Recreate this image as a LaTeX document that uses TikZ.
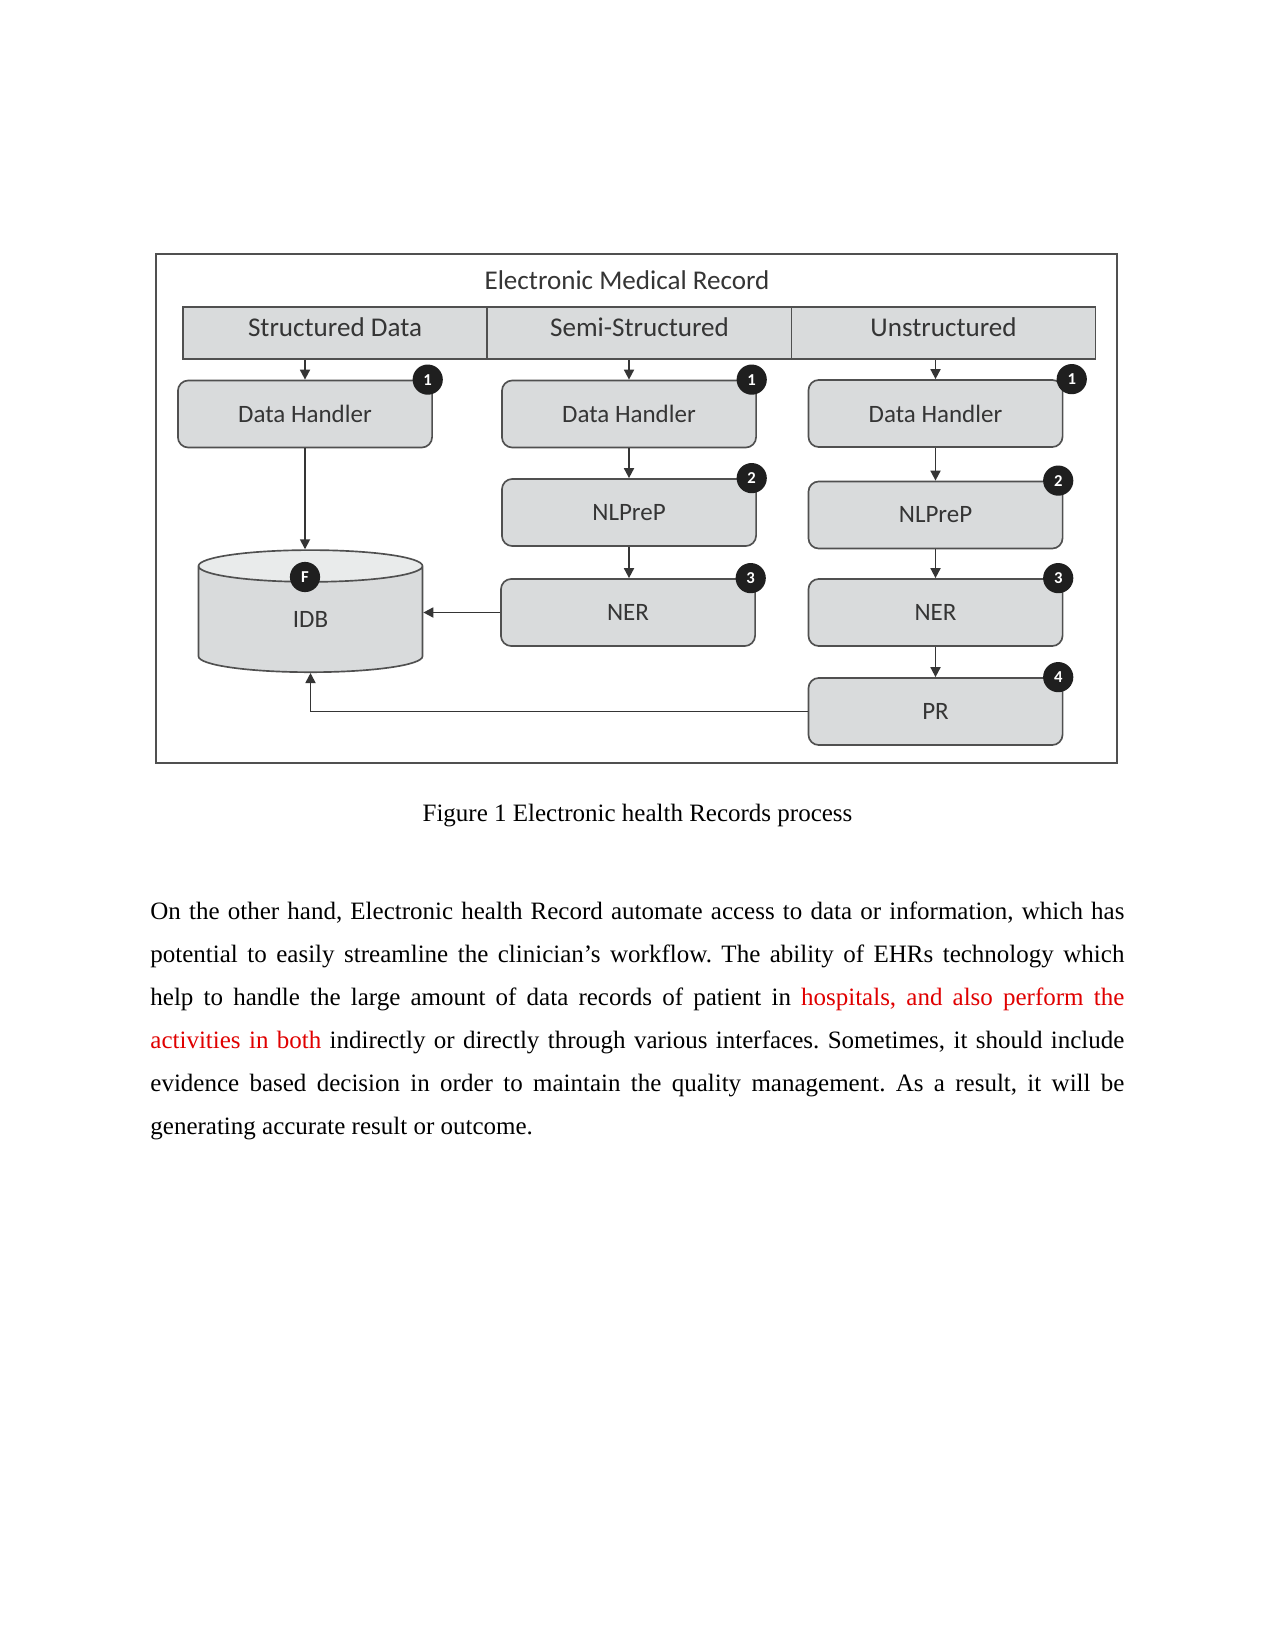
\documentclass[tikz,border=0pt]{standalone}
\usepackage{fontspec}
\usepackage{xcolor}
\setmainfont{Liberation Serif}
\newfontfamily\calibri{Carlito}
\usetikzlibrary{positioning,shapes.geometric,arrows.meta,calc}
\definecolor{boxgray}{HTML}{D9DBDC}
\definecolor{topgray}{HTML}{E9EBEB}
\definecolor{edgegray}{HTML}{505050}
\definecolor{inkgray}{HTML}{353535}
\definecolor{wordred}{HTML}{E00000}
\begin{document}
\begin{tikzpicture}[
    x=0.48pt, y=-0.48pt,
    every node/.style={font=\calibri, text=inkgray},
    header/.style={rectangle, draw=edgegray, fill=boxgray, line width=0.8pt, minimum width=146pt, minimum height=25pt, inner sep=0pt, text height=9pt, text depth=5.4pt, font=\calibri\fontsize{13}{15}\selectfont},
    stage/.style={rectangle, draw=edgegray, fill=boxgray, rounded corners=5pt, line width=0.8pt, minimum width=122pt, minimum height=32.2pt, inner sep=0pt, font=\calibri\fontsize{12}{14}\selectfont},
    badge/.style={circle, fill=black!88, text=white, inner sep=0pt, minimum size=14.5pt, font=\calibri\bfseries\fontsize{8}{9}\selectfont},
    flow/.style={-{Triangle[length=4.8pt,width=4.8pt]}, draw=inkgray, line width=0.85pt},
    page/.style={font=\rmfamily\fontsize{12}{20.7}\selectfont, text=black, inner sep=0pt}
]
\fill[white] (0,0) rectangle (1275,1651);
\useasboundingbox (0,0) rectangle (1275,1651);

\draw[edgegray, line width=1.1pt] (156,254) rectangle (1117,763);
\node[font=\calibri\fontsize{13}{15}\selectfont] (emr) at (627,280) {Electronic Medical Record};

\node[header] (structured) at (335,333) {Structured Data};
\node[header] (semi) at (639.5,333) {Semi-Structured};
\node[header] (unstructured) at (943.5,333) {Unstructured};

\node[stage] (dh1) at (305,414) {Data Handler};
\node[stage] (dh2) at (629,414) {Data Handler};
\node[stage] (dh3) at (935.5,413.5) {Data Handler};
\node[stage] (nlp2) at (629,512.5) {NLPreP};
\node[stage] (nlp3) at (935.5,515) {NLPreP};
\node[stage] (ner2) at (628,612.5) {NER};
\node[stage] (ner3) at (935.5,612.5) {NER};
\node[stage] (pr) at (935.5,711.5) {PR};

\node[cylinder, shape border rotate=90, aspect=0.9, draw=edgegray, line width=0.8pt,
      cylinder uses custom fill, cylinder body fill=boxgray, cylinder end fill=topgray,
      minimum width=107.5pt, minimum height=58.6pt, inner sep=0pt,
      font=\calibri\fontsize{12}{14}\selectfont] (idb) at (310.5,619.5) {\raisebox{-6pt}{IDB}};

\foreach \n/\t in {dh1/1,dh2/1,nlp2/2,ner2/3,nlp3/2,ner3/3,pr/4}
    \node[badge] (\n-b) at ([xshift=-2.5pt]\n.north east) {\t};
\node[badge] (dh3-b) at ([xshift=4pt]dh3.north east) {1};
\node[badge] (idb-b) at (305,577) {F};

\draw[flow] (dh1.north |- structured.south) -- (dh1.north);
\draw[flow] (dh2.north |- semi.south) -- (dh2.north);
\draw[flow] (dh3.north |- unstructured.south) -- (dh3.north);
\draw[flow] (dh1.south) -- (dh1.south |- idb.north);
\draw[flow] (dh2.south) -- (nlp2.north);
\draw[flow] (nlp2.south) -- (nlp2.south |- ner2.north);
\draw[flow] (ner2.west) -- (ner2.west -| idb.east);
\draw[flow] (dh3.south) -- (dh3.south |- nlp3.north);
\draw[flow] (nlp3.south) -- (ner3.north);
\draw[flow] (ner3.south) -- (pr.north);
\draw[flow] (pr.west) -| (idb.south);

\node[page, anchor=base] (caption) at (637.5,821) {Figure 1 Electronic health Records process};

\node[page, anchor=north west, text width=467.5pt, align=justify] (para) at (150,901)
{\frenchspacing On the other hand, Electronic health Record automate access to data or information, which has\linebreak
potential to easily streamline the clinician’s workflow. The ability of EHRs technology which\linebreak
help to handle the large amount of data records of patient in \textcolor{wordred}{hospitals, and also perform the\linebreak
activities in both} indirectly or directly through various interfaces. Sometimes, it should include\linebreak
evidence based decision in order to maintain the quality management. As a result, it will be\linebreak
generating accurate result or outcome.};
\end{tikzpicture}
\end{document}
